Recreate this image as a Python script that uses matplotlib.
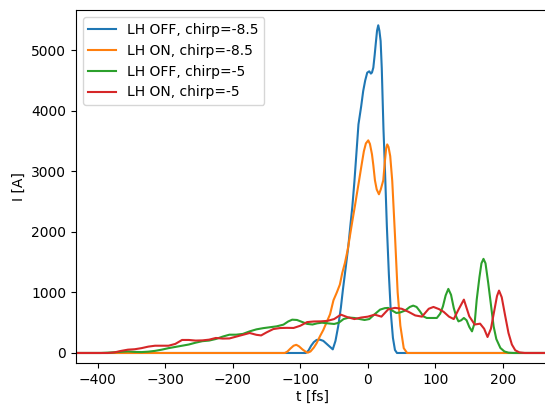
import numpy as np
import matplotlib
matplotlib.use("Agg")
import matplotlib.pyplot as plt

# Current profiles (t in fs, I in A)
t_off_85 = [-432, -92, -88, -84, -80, -76, -71, -66, -61, -56, -52, -48, -44, -40, -37, -33, -29, -26, -23,
            -20, -17, -14, -10, -7, -4, -1, 2, 4.4, 6, 8, 10, 11.5, 13.5, 15.3, 17, 18.8, 20.5, 21.7, 23, 25,
            28, 31, 34, 37, 40, 43, 268]
I_off_85 = [0, 0, 40, 120, 180, 215, 220, 200, 150, 100, 60, 200, 440, 750, 1046, 1400, 1762, 2100, 2423,
            2830, 3300, 3774, 4070, 4324, 4500, 4628, 4650, 4612, 4630, 4710, 4920, 5096, 5320, 5410, 5320, 5150, 4700, 4215, 3700, 3100,
            2100, 1300, 650, 250, 50, 0, 0]

t_on_85 = [-432, -123, -119, -115, -110, -106, -102, -97, -92, -89, -85, -80, -76, -71, -66, -61, -56, -51,
           -46, -41.5, -38, -34, -30, -26.7, -23, -19.3, -16, -12.9, -9, -6, -3, 0.5, 3, 6, 8, 10.4, 13, 16.3,
           19, 22.7, 25, 27, 28.6, 30.5, 33, 36, 40, 44, 48, 53, 58, 268]
I_on_85 = [0, 0, 25, 70, 120, 135, 110, 60, 20, 5, 25, 90, 160, 275, 380, 510, 640, 870,
           1000, 1130, 1320, 1488, 1700, 1927, 2180, 2423, 2650, 2860, 3130, 3330, 3460, 3510, 3450, 3280, 3100, 2850, 2700, 2620,
           2700, 2850, 3150, 3380, 3443, 3400, 3250, 2840, 1950, 1000, 450, 80, 0, 0]

t_off_5 = [-432, -395, -380, -365, -355, -345, -335, -325, -315, -305, -295, -285, -275, -265, -255, -245,
           -235, -225, -215, -205, -195, -185, -175, -165, -155, -145, -135, -125, -118, -112, -105, -98, -90,
           -82, -75, -68, -60, -50, -43, -36, -28, -20, -12, -5, 2, 10, 18, 25, 30, 36, 42, 48, 55, 62, 67, 72,
           77, 82, 87, 95, 102, 107, 111, 115, 119, 123, 127, 131, 134, 138, 142, 146, 150, 154, 158, 161, 165,
           168, 171, 174, 178, 182, 186, 190, 196, 202, 208, 215, 268]
I_off_5 = [0, 0, 8, 20, 26, 18, 15, 22, 35, 55, 80, 100, 120, 140, 170, 195,
           205, 231, 270, 302, 302, 315, 357, 390, 410, 425, 440, 468, 520, 550, 545, 515, 480,
           470, 490, 500, 490, 479, 500, 560, 585, 578, 560, 545, 560, 640, 716, 740, 744, 700, 661, 670, 700, 760, 782, 760,
           688, 605, 578, 578, 578, 650, 770, 950, 1058, 960, 744, 590, 522, 540, 578, 540, 430, 357, 500, 881, 1250,
           1480, 1554, 1480, 1157, 800, 440, 230, 83, 25, 5, 0, 0]

t_on_5 = [-432, -385, -375, -365, -355, -345, -335, -325, -315, -305, -295, -285, -275, -265, -255, -245,
          -235, -225, -215, -205, -195, -185, -175, -165, -158, -150, -140, -130, -120, -110, -100, -90, -80,
          -70, -60, -50, -40, -30, -20, -10, 0, 10, 20, 30, 40, 50, 60, 70, 80, 90, 97, 105, 112, 120, 127, 134,
          142, 150, 158, 166, 172, 177, 182, 187, 191, 194, 198, 203, 208, 213, 218, 224, 232, 268]
I_on_5 = [0, 0, 10, 35, 55, 62, 80, 105, 120, 120, 120, 150, 215, 215, 205, 208,
          220, 248, 238, 240, 270, 300, 330, 300, 290, 340, 395, 412, 415, 413, 450, 510, 520,
          522, 530, 560, 633, 590, 560, 585, 600, 633, 600, 720, 745, 730, 680, 620, 600, 730, 760, 725, 680, 600, 560, 716,
          881, 605, 470, 484, 400, 264, 400, 700, 940, 1030, 920, 620, 330, 140, 45, 10, 0, 0]

labels = ["LH OFF, chirp=-8.5", "LH ON, chirp=-8.5", "LH OFF, chirp=-5", "LH ON, chirp=-5"]

fig = plt.figure(figsize=(5.45, 4.05), dpi=100)
ax = fig.add_axes([0.1394, 0.103, 0.868, 0.872])

ax.plot(t_off_85, I_off_85, label=labels[0])
ax.plot(t_on_85, I_on_85, label=labels[1])
ax.plot(t_off_5, I_off_5, label=labels[2])
ax.plot(t_on_5, I_on_5, label=labels[3])

ax.set_xlim(-432, 268)
ax.set_ylim(-170, 5660)
ax.set_xlabel("t [fs]", labelpad=2)
ax.set_ylabel("I [A]")
ax.legend(loc="upper left")

fig.savefig("out.png", dpi=100)
